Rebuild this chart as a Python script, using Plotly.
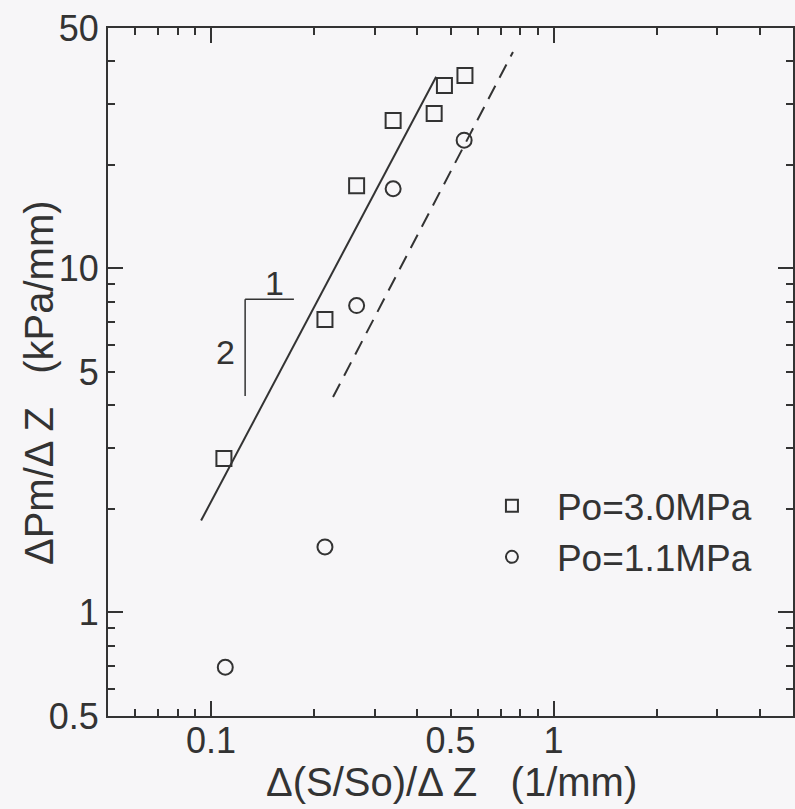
import plotly.graph_objects as go
import math

# ---- data ----
sq_x = [0.109, 0.215, 0.266, 0.340, 0.448, 0.480, 0.551]
sq_y = [2.80, 7.11, 17.4, 26.9, 28.2, 34.0, 36.4]
ci_x = [0.110, 0.215, 0.266, 0.340, 0.548]
ci_y = [0.693, 1.55, 7.80, 17.05, 23.6]
fit_hi_x = [0.0935, 0.454]
fit_hi_y = [1.85, 36.1]
fit_lo_x = [0.227, 0.761]
fit_lo_y = [4.23, 42.6]
tri_x = [0.1257, 0.1745]
tri_y = [4.255, 8.13]
tri_labels = ["1", "2"]

x_ticks = [0.05, 0.06, 0.07, 0.08, 0.09, 0.1, 0.2, 0.3, 0.4, 0.5, 0.6, 0.7, 0.8, 0.9, 1, 2, 3, 4, 5]
x_labels = {0.1: "0.1", 0.5: "0.5", 1: "1"}
x_major = [0.1, 1]
y_ticks = [0.5, 0.6, 0.7, 0.8, 0.9, 1, 2, 3, 4, 5, 6, 7, 8, 9, 10, 20, 30, 40, 50]
y_labels = {0.5: "0.5", 1: "1", 5: "5", 10: "10", 50: "50"}
y_major = [1, 10]
x_range = [0.05, 5]
y_range = [0.5, 50]
x_title = "Δ(S/So)/Δ Z   (1/mm)"
y_title = "ΔPm/Δ Z   (kPa/mm)"

INK = "#333333"
BG = "#f7f6f8"
FONT = "Liberation Sans, Arial, sans-serif"
FS = 36

fig = go.Figure()
fig.add_trace(go.Scatter(x=fit_hi_x, y=fit_hi_y, mode="lines",
                         line=dict(color=INK, width=2), showlegend=False, hoverinfo="skip"))
fig.add_trace(go.Scatter(x=fit_lo_x, y=fit_lo_y, mode="lines",
                         line=dict(color=INK, width=2, dash="15px,9px"), showlegend=False, hoverinfo="skip"))
fig.add_trace(go.Scatter(x=sq_x, y=sq_y, mode="markers", name="Po=3.0MPa",
                         marker=dict(symbol="square-open", size=15, color=INK, line=dict(width=2, color=INK))))
fig.add_trace(go.Scatter(x=ci_x, y=ci_y, mode="markers", name="Po=1.1MPa",
                         marker=dict(symbol="circle-open", size=15, color=INK, line=dict(width=2, color=INK))))
# invisible trace to instantiate the overlay axes carrying the long major ticks
fig.add_trace(go.Scatter(x=[x_major[0]], y=[y_major[0]], xaxis="x2", yaxis="y2", mode="markers",
                         marker=dict(opacity=0), showlegend=False, hoverinfo="skip"))

# slope triangle
fig.add_shape(type="line", x0=tri_x[0], x1=tri_x[0], y0=tri_y[0], y1=tri_y[1],
              line=dict(color=INK, width=1.5))
fig.add_shape(type="line", x0=tri_x[0], x1=tri_x[1], y0=tri_y[1], y1=tri_y[1],
              line=dict(color=INK, width=1.5))
fig.add_annotation(x=math.log10(math.sqrt(tri_x[0] * tri_x[1])), y=math.log10(tri_y[1]),
                   text=tri_labels[0], showarrow=False, yanchor="bottom", yshift=-5, xshift=5,
                   font=dict(family=FONT, size=34, color=INK))
fig.add_annotation(x=math.log10(tri_x[0]), y=math.log10(math.sqrt(tri_y[0] * tri_y[1])),
                   text=tri_labels[1], showarrow=False, xanchor="right", xshift=-8, yshift=-4,
                   font=dict(family=FONT, size=34, color=INK))

# axis titles
fig.add_annotation(xref="paper", yref="paper", x=0.502, y=-0.0959, text=x_title,
                   showarrow=False, xanchor="center", yanchor="middle",
                   font=dict(family=FONT, size=40, color=INK))
fig.add_annotation(xref="paper", yref="paper", x=-0.1007, y=0.484, text=y_title,
                   showarrow=False, xanchor="center", yanchor="middle", textangle=-90,
                   font=dict(family=FONT, size=40, color=INK))

lx = [math.log10(v) for v in x_range]
ly = [math.log10(v) for v in y_range]

common = dict(type="log", showgrid=False, zeroline=False, ticks="inside", automargin=False,
              tickcolor=INK, tickwidth=2, linecolor=INK, linewidth=2)

fig.update_layout(
    template="none",
    width=795, height=809,
    margin=dict(l=108, r=2, t=28, b=93),
    paper_bgcolor=BG, plot_bgcolor=BG,
    font=dict(family=FONT, size=FS, color=INK),
    xaxis=dict(**common, range=lx, showline=True, mirror="ticks",
               tickmode="array", tickvals=x_ticks,
               ticktext=[x_labels.get(v, "") for v in x_ticks], ticklen=7,
               ticklabelstandoff=-8,
               tickfont=dict(size=FS, color=INK)),
    yaxis=dict(**common, range=ly, showline=True, mirror="ticks",
               tickmode="array", tickvals=y_ticks,
               ticktext=[y_labels.get(v, "") for v in y_ticks], ticklen=7,
               tickfont=dict(size=FS, color=INK)),
    xaxis2=dict(**common, range=lx, overlaying="x", anchor="y2", side="bottom", showline=False,
                mirror="ticks", tickmode="array", tickvals=x_major, ticklen=15, showticklabels=False),
    yaxis2=dict(**common, range=ly, overlaying="y", anchor="x2", side="left", showline=False,
                mirror="ticks", tickmode="array", tickvals=y_major, ticklen=15, showticklabels=False),
    legend=dict(x=0.524, y=0.35, xanchor="left", yanchor="top", bgcolor="rgba(0,0,0,0)",
                font=dict(size=37, color=INK), itemsizing="constant", itemwidth=80),
    showlegend=True,
)

fig.write_html("out.html", config={"displayModeBar": False},
               post_script="document.body.style.margin='0';document.body.style.background='%s';" % BG)
